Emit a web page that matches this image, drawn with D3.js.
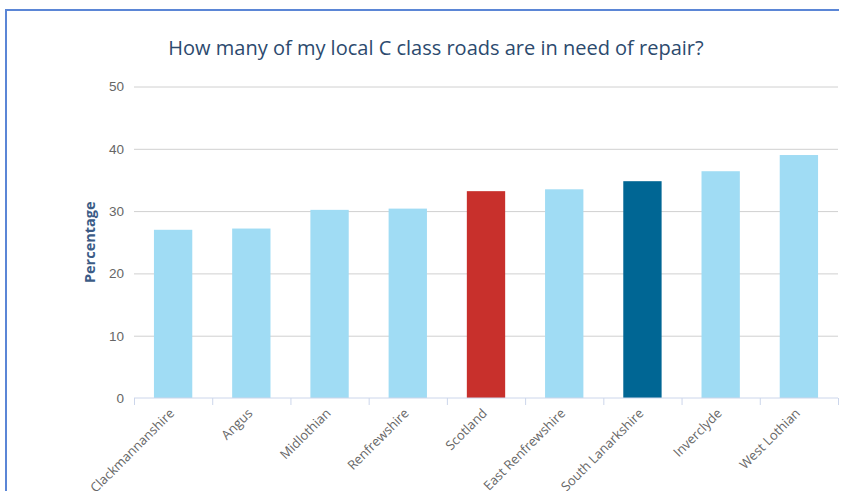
<!DOCTYPE html>
<html>
<head>
<meta charset="utf-8">
<script src="https://cdn.jsdelivr.net/npm/d3@7"></script>
<style>
  body { margin: 0; background: #fff; }
  svg { display: block; font-family: "Open Sans", "Noto Sans", sans-serif; }
</style>
</head>
<body>
<svg id="svg"></svg>
<script>
// chart data
const categories = ["Clackmannanshire", "Angus", "Midlothian", "Renfrewshire", "Scotland",
    "East Renfrewshire", "South Lanarkshire", "Inverclyde", "West Lothian"];
const values = [27.0, 27.2, 30.2, 30.4, 33.2, 33.5, 34.8, 36.4, 39.0];
const yTicks = [0, 10, 20, 30, 40, 50];
const highlight = { "Scotland": "#c8302c", "South Lanarkshire": "#006694" };

const width = 849;
const height = 491;
const margin = { top: 86.5, right: 11, bottom: 93, left: 134 };

let svg = d3.select("#svg")
    .attr("width", width)
    .attr("height", height);

// frame: top and left edges only
svg.append("path")
    .attr("d", "M6,491 V10 H839")
    .attr("fill", "none")
    .attr("stroke", "#5b86d6")
    .attr("stroke-width", 2);

const chartWidth = width - margin.left - margin.right;
const chartHeight = height - margin.top - margin.bottom;

let chart = svg.append("g")
    .attr("transform", "translate(" + margin.left + "," + margin.top + ")");

let xScale = d3.scaleBand()
    .domain(categories)
    .range([0, chartWidth]);

let barScale = d3.scaleBand()
    .domain(categories)
    .range([0, chartWidth])
    .paddingInner(0.51)
    .paddingOuter(0.255);

let yScale = d3.scaleLinear()
    .domain([0, 50])
    .range([chartHeight, 0]);

// grid + y labels
let yAxis = chart.append("g")
    .call(d3.axisLeft(yScale).tickValues(yTicks).tickSize(-chartWidth).tickPadding(10));
yAxis.select(".domain").remove();
yAxis.selectAll(".tick line")
    .attr("stroke", "#d0d0d0")
    .attr("stroke-width", 1)
    .attr("display", d => d === 0 ? "none" : null);
yAxis.selectAll(".tick text")
    .attr("fill", "#666666")
    .style("font-size", "13.5px");

// bars
chart.selectAll(".bar")
    .data(categories.map((c, i) => ({ name: c, value: values[i] })))
    .enter()
    .append("rect")
    .attr("class", "bar")
    .attr("x", d => barScale(d.name))
    .attr("y", d => yScale(d.value))
    .attr("width", barScale.bandwidth())
    .attr("height", d => chartHeight - yScale(d.value))
    .attr("fill", d => highlight[d.name] || "#a0dcf4");

// x axis with ticks on band edges
let xAxis = chart.append("g")
    .attr("transform", `translate(0,${chartHeight})`);
xAxis.append("line")
    .attr("x1", 0).attr("x2", chartWidth)
    .attr("stroke", "#ccd6eb");
xAxis.selectAll(".edge")
    .data(d3.range(categories.length + 1))
    .enter()
    .append("line")
    .attr("x1", i => i * xScale.step() + 0.5)
    .attr("x2", i => i * xScale.step() + 0.5)
    .attr("y1", 0).attr("y2", 7)
    .attr("stroke", "#ccd6eb");
xAxis.selectAll(".xlabel")
    .data(categories)
    .enter()
    .append("text")
    .attr("text-anchor", "end")
    .attr("transform", d => `translate(${xScale(d) + xScale.bandwidth() / 2 + 2},${16}) rotate(-45)`)
    .attr("fill", "#666666")
    .style("font-size", "13px")
    .text(d => d);

// y label
svg.append("text")
    .attr("transform", "translate(95," + (margin.top + chartHeight / 2) + ") rotate(-90)")
    .attr("text-anchor", "middle")
    .attr("fill", "#3b5b86")
    .style("font-size", "14.5px")
    .style("font-weight", "bold")
    .text("Percentage");

// title
svg.append("text")
    .attr("x", 436)
    .attr("y", 55)
    .attr("text-anchor", "middle")
    .attr("fill", "#2c4a6e")
    .style("font-size", "20px")
    .text("How many of my local C class roads are in need of repair?");
</script>
</body>
</html>
